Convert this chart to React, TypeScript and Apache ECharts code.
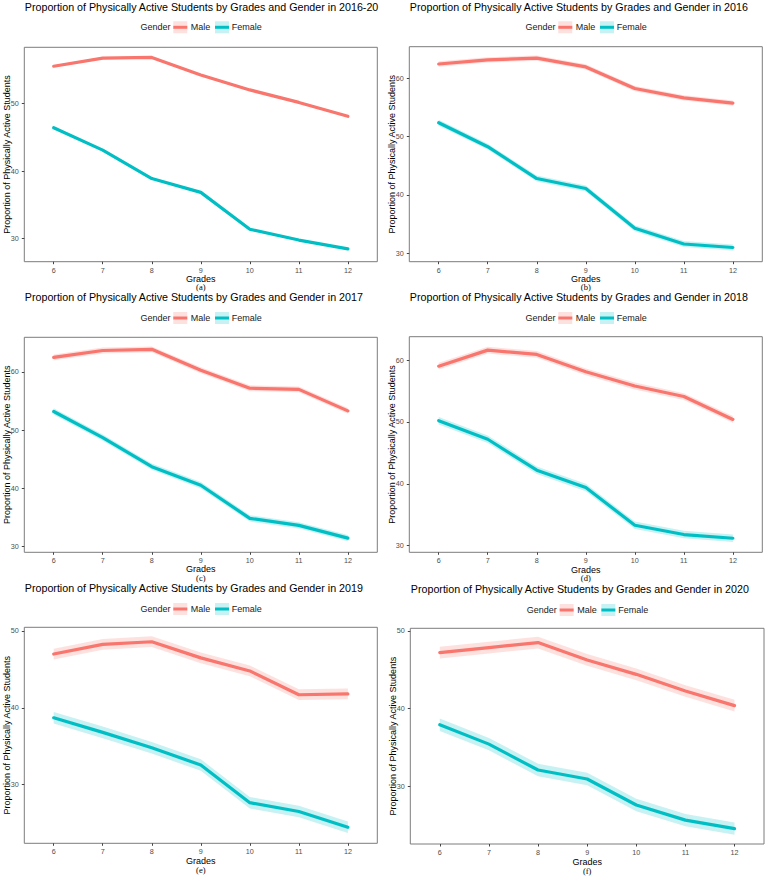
import React, { useEffect, useRef } from "react";
import * as echarts from "echarts";

// Grades on the x axis
const GRADES = [6, 7, 8, 9, 10, 11, 12];

// Proportion of physically active students (%), by grade
const MALE_2016_20 = [55.5, 56.7, 56.8, 54.2, 52.0, 50.15, 48.1];
const FEMALE_2016_20 = [46.4, 43.1, 38.9, 36.85, 31.4, 29.8, 28.5];
const MALE_2016 = [62.4, 63.1, 63.4, 61.9, 58.2, 56.6, 55.7];
const FEMALE_2016 = [52.35, 48.25, 42.8, 41.1, 34.3, 31.6, 31.0];
const MALE_2017 = [62.5, 63.7, 63.9, 60.3, 57.2, 57.0, 53.3];
const FEMALE_2017 = [53.2, 48.7, 43.7, 40.5, 34.8, 33.6, 31.4];
const MALE_2018 = [59.0, 61.6, 60.9, 58.1, 55.8, 54.1, 50.4];
const FEMALE_2018 = [50.2, 47.2, 42.2, 39.4, 33.3, 31.8, 31.2];
const MALE_2019 = [47.0, 48.26, 48.6, 46.5, 44.8, 41.7, 41.8];
const FEMALE_2019 = [38.7, 36.8, 34.8, 32.55, 27.65, 26.5, 24.45];
const MALE_2020 = [47.2, 47.85, 48.5, 46.26, 44.4, 42.26, 40.37];
const FEMALE_2020 = [37.9, 35.4, 32.06, 30.9, 27.55, 25.6, 24.5];

// Half-width of the confidence band around each line, per panel
const CI_MALE = [0.15, 0.45, 0.5, 0.55, 0.7, 0.75];
const CI_FEMALE = [0.15, 0.5, 0.55, 0.6, 0.75, 0.8];

// Panel titles, captions and y tick values
const TITLES = [
  "Proportion of Physically Active Students by Grades and Gender in 2016-20",
  "Proportion of Physically Active Students by Grades and Gender in 2016",
  "Proportion of Physically Active Students by Grades and Gender in 2017",
  "Proportion of Physically Active Students by Grades and Gender in 2018",
  "Proportion of Physically Active Students by Grades and Gender in 2019",
  "Proportion of Physically Active Students by Grades and Gender in 2020",
];
const CAPTIONS = ["(a)", "(b)", "(c)", "(d)", "(e)", "(f)"];
const Y_TICKS = [
  [30, 40, 50],
  [30, 40, 50, 60],
  [30, 40, 50, 60],
  [30, 40, 50, 60],
  [30, 40, 50],
  [30, 40, 50],
];
const Y_RANGES = [
  [26.6, 58.3],
  [28.57, 65.36],
  [28.96, 65.97],
  [28.93, 63.77],
  [22.36, 50.48],
  [22.52, 50.34],
];

const MALE_SERIES = [MALE_2016_20, MALE_2016, MALE_2017, MALE_2018, MALE_2019, MALE_2020];
const FEMALE_SERIES = [FEMALE_2016_20, FEMALE_2016, FEMALE_2017, FEMALE_2018, FEMALE_2019, FEMALE_2020];

// Panel geometry in pixels
const LAYOUT = [
  { left: 24.3, top: 47.3, width: 353, height: 214.4, titleY: 7.3, legendY: 27.3, gradesDy: 17.0, capDy: 25.3 },
  { left: 409.3, top: 46.7, width: 353, height: 215, titleY: 7.3, legendY: 27.3, gradesDy: 17.0, capDy: 25.3 },
  { left: 24.3, top: 337.3, width: 353, height: 215, titleY: 297.3, legendY: 318, gradesDy: 16.9, capDy: 25.4 },
  { left: 409.3, top: 336.7, width: 353, height: 215.6, titleY: 297.3, legendY: 318, gradesDy: 17.2, capDy: 26.0 },
  { left: 24.3, top: 627.3, width: 353, height: 216, titleY: 588.3, legendY: 609, gradesDy: 17.4, capDy: 27.0 },
  { left: 410.3, top: 628.3, width: 353.7, height: 215.7, titleY: 589.3, legendY: 610, gradesDy: 18.2, capDy: 27.0 },
];

const MALE_COLOR = "#F8766D";
const FEMALE_COLOR = "#00BFC4";
const MALE_FILL = "rgba(248,118,109,0.22)";
const FEMALE_FILL = "rgba(0,191,196,0.22)";
const SANS = "'Liberation Sans', Arial, sans-serif";
const SERIF = "'Liberation Serif', 'Times New Roman', serif";

function bandSeries(idx: number, values: number[], half: number, fill: string) {
  const rows = GRADES.map((g, k) => [g, values[k] - half, values[k] + half]);
  return {
    type: "custom",
    xAxisIndex: idx,
    yAxisIndex: idx,
    data: rows,
    encode: { x: 0, y: [1, 2] },
    z: 1,
    silent: true,
    renderItem: (params: any, api: any) => {
      if (params.dataIndex !== 0) return null;
      const upper = rows.map((r) => api.coord([r[0], r[2]]));
      const lower = rows.map((r) => api.coord([r[0], r[1]])).reverse();
      return {
        type: "polygon",
        shape: { points: upper.concat(lower) },
        style: { fill },
        silent: true,
      };
    },
  };
}

function lineSeries(idx: number, name: string, values: number[], color: string) {
  return {
    type: "line",
    name,
    xAxisIndex: idx,
    yAxisIndex: idx,
    data: GRADES.map((g, k) => [g, values[k]]),
    symbol: "none",
    z: 3,
    lineStyle: { color, width: 3.2, join: "round", cap: "round" },
    itemStyle: { color },
  };
}

function legendGraphics(cx: number, cy: number) {
  const keyW = 14;
  const keyH = 12;
  const textStyle = { fontSize: 9, fontFamily: SANS, fill: "#1a1a1a", align: "left", verticalAlign: "middle" };
  const key = (x0: number, fill: string, stroke: string) => [
    { type: "rect", shape: { x: cx + x0, y: cy - keyH / 2, width: keyW, height: keyH }, style: { fill } },
    {
      type: "line",
      shape: { x1: cx + x0, y1: cy, x2: cx + x0 + keyW, y2: cy },
      style: { stroke, lineWidth: 3 },
    },
  ];
  return [
    { type: "text", x: cx - 60.4, y: cy, style: { ...textStyle, text: "Gender" } },
    ...key(-27.5, MALE_FILL, MALE_COLOR),
    { type: "text", x: cx - 10, y: cy, style: { ...textStyle, text: "Male" } },
    ...key(14.2, FEMALE_FILL, FEMALE_COLOR),
    { type: "text", x: cx + 31, y: cy, style: { ...textStyle, text: "Female" } },
  ];
}

export default function App() {
  const ref = useRef<HTMLDivElement>(null);

  useEffect(() => {
    if (!ref.current) return;
    const chart = echarts.init(ref.current, undefined, { renderer: "svg" });

    const grids: any[] = [];
    const xAxes: any[] = [];
    const yAxes: any[] = [];
    const series: any[] = [];
    const graphics: any[] = [];

    LAYOUT.forEach((p, i) => {
      grids.push({
        left: p.left,
        top: p.top,
        width: p.width,
        height: p.height,
        show: true,
        borderColor: "#7c7c7c",
        borderWidth: 1,
        backgroundColor: "#ffffff",
        containLabel: false,
        outerBoundsMode: "none",
      });
      xAxes.push({
        type: "value",
        gridIndex: i,
        min: 5.4,
        max: 12.6,
        splitLine: { show: false },
        axisLine: { show: false },
        axisTick: { show: true, length: 2.5, customValues: GRADES, lineStyle: { color: "#444" } },
        axisLabel: {
          show: true,
          customValues: GRADES,
          margin: 5,
          fontSize: 7.2,
          fontFamily: SANS,
          color: "#4d4d4d",
        },
      });
      yAxes.push({
        type: "value",
        gridIndex: i,
        min: Y_RANGES[i][0],
        max: Y_RANGES[i][1],
        splitLine: { show: false },
        axisLine: { show: false },
        axisTick: { show: true, length: 2.5, customValues: Y_TICKS[i], lineStyle: { color: "#444" } },
        axisLabel: {
          show: true,
          customValues: Y_TICKS[i],
          margin: 5.5,
          fontSize: 7.2,
          fontFamily: SANS,
          color: "#4d4d4d",
        },
      });

      series.push(bandSeries(i, MALE_SERIES[i], CI_MALE[i], MALE_FILL));
      series.push(bandSeries(i, FEMALE_SERIES[i], CI_FEMALE[i], FEMALE_FILL));
      series.push(lineSeries(i, "Male", MALE_SERIES[i], MALE_COLOR));
      series.push(lineSeries(i, "Female", FEMALE_SERIES[i], FEMALE_COLOR));

      const cx = p.left + p.width / 2;
      const cy = p.top + p.height / 2;
      const bottom = p.top + p.height;

      graphics.push({
        type: "text",
        x: p.left + 0.5,
        y: p.titleY,
        style: {
          text: TITLES[i],
          fontSize: 10.7,
          fontFamily: SANS,
          fill: "#000000",
          align: "left",
          verticalAlign: "middle",
        },
      });
      graphics.push(...legendGraphics(cx, p.legendY));
      graphics.push({
        type: "text",
        x: p.left - 17.6,
        y: cy,
        rotation: Math.PI / 2,
        style: {
          text: "Proportion of Physically Active Students",
          fontSize: 9,
          fontFamily: SANS,
          fill: "#000000",
          align: "center",
          verticalAlign: "middle",
        },
      });
      graphics.push({
        type: "text",
        x: cx,
        y: bottom + p.gradesDy,
        style: { text: "Grades", fontSize: 9, fontFamily: SANS, fill: "#000000", align: "center", verticalAlign: "middle" },
      });
      graphics.push({
        type: "text",
        x: cx,
        y: bottom + p.capDy,
        style: { text: CAPTIONS[i], fontSize: 8.5, fontFamily: SERIF, fill: "#000000", align: "center", verticalAlign: "middle" },
      });
    });

    chart.setOption({
      animation: false,
      backgroundColor: "#ffffff",
      grid: grids,
      xAxis: xAxes,
      yAxis: yAxes,
      series,
      graphic: { elements: graphics },
    });

    return () => chart.dispose();
  }, []);

  return (
    <div
      ref={ref}
      style={{ position: "absolute", left: 0, top: 0, width: 767, height: 878 }}
    />
  );
}
